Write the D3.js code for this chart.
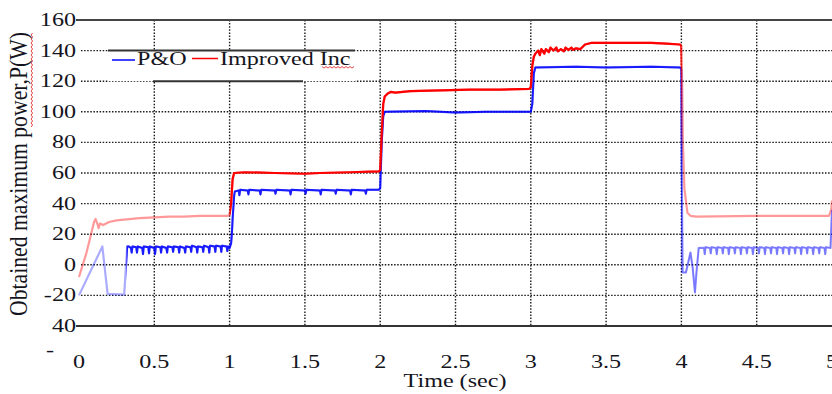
<!DOCTYPE html>
<html><head><meta charset="utf-8">
<script src="https://cdn.jsdelivr.net/npm/d3@7/dist/d3.min.js"></script>
<style>html,body{margin:0;padding:0;background:#fff;overflow:hidden}</style>
</head><body>
<svg id="chart" width="832" height="394"></svg>
<script>
// ---------- data ----------
const xTicks = [0, 0.5, 1, 1.5, 2, 2.5, 3, 3.5, 4, 4.5, 5];
const xTickLabels = ["0", "0.5", "1", "1.5", "2", "2.5", "3", "3.5", "4", "4.5", "5"];
const yTicks = [160, 140, 120, 100, 80, 60, 40, 20, 0, -20, -40];
const yTickLabels = ["160", "140", "120", "100", "80", "60", "40", "20", "0", "-20", "40"];
const seriesNames = ["P&O", "Improved Inc"];

const poTime = [0, 0.155, 0.19, 0.30, 0.32,
  0.33, 0.345, 0.35, 0.355, 0.38, 0.385, 0.39, 0.42, 0.425, 0.43, 0.46, 0.465, 0.47,
  0.50, 0.505, 0.51, 0.54, 0.545, 0.55, 0.58, 0.585, 0.59, 0.62, 0.625, 0.63,
  0.66, 0.665, 0.67, 0.70, 0.705, 0.71, 0.74, 0.745, 0.75, 0.78, 0.785, 0.79,
  0.82, 0.825, 0.83, 0.86, 0.865, 0.87, 0.90, 0.905, 0.91, 0.94, 0.945, 0.95,
  0.98, 0.985, 0.99, 1.0, 1.01, 1.015, 1.02, 1.03, 1.035,
  1.06, 1.065, 1.07, 1.12, 1.125, 1.13, 1.2, 1.205, 1.21, 1.3, 1.305, 1.31,
  1.4, 1.405, 1.41, 1.5, 1.505, 1.51, 1.6, 1.605, 1.61, 1.7, 1.705, 1.71,
  1.8, 1.805, 1.81, 1.9, 1.905, 1.91, 1.99,
  2.0, 2.01, 2.02, 2.03, 2.3, 2.5, 2.7, 3.0,
  3.01, 3.02, 3.03, 3.3, 3.5, 3.8, 3.99,
  4.0, 4.003, 4.008, 4.03, 4.06, 4.075, 4.09, 4.1, 4.115,
  4.15, 4.155, 4.16, 4.19, 4.195, 4.2, 4.23, 4.235, 4.24, 4.27, 4.275, 4.28,
  4.31, 4.315, 4.32, 4.35, 4.355, 4.36, 4.39, 4.395, 4.4, 4.43, 4.435, 4.44,
  4.47, 4.475, 4.48, 4.51, 4.515, 4.52, 4.55, 4.555, 4.56, 4.59, 4.595, 4.6,
  4.63, 4.635, 4.64, 4.67, 4.675, 4.68, 4.71, 4.715, 4.72, 4.75, 4.755, 4.76,
  4.79, 4.795, 4.8, 4.83, 4.835, 4.84, 4.87, 4.875, 4.88, 4.91, 4.915, 4.92,
  4.95, 4.955, 4.96, 4.99, 5.0];
const poPower = [-20, 12, -19, -19.5, 12,
  12, 11, 8, 12, 11.5, 8, 12, 11, 7, 12, 11.5, 7.5, 12,
  11, 7, 12, 11.5, 8, 12, 11, 8, 12, 11.5, 8.5, 12,
  11.5, 8, 12, 11, 8, 12, 11.5, 8.5, 12.5, 11.5, 8, 12,
  11.5, 8.5, 12.5, 11.5, 8, 12.5, 12, 8.5, 12.5, 12, 8.5, 12.5,
  12, 9, 12, 11, 14, 20, 30, 45, 48,
  48.5, 45.5, 49, 48.5, 46, 49, 48.5, 46, 49, 48.5, 46.5, 49,
  48.5, 46, 49, 48.5, 46.5, 49, 48.5, 46, 49, 48.5, 46.5, 49,
  48.5, 46, 49, 48.5, 46.5, 49, 49,
  50, 80, 97, 100, 100.5, 99.5, 100, 100,
  105, 125, 129, 129.5, 129, 129.5, 129,
  128, 60, -5, -5, 8, -2, -18, -5, 11,
  11, 7, 11.5, 11, 7.5, 11.5, 11, 7, 11.5, 11, 7.5, 11.5,
  11, 7, 11.5, 11, 7.5, 11.5, 11, 7, 11.5, 11, 7.5, 11.5,
  11, 7, 11.5, 11, 7.5, 11.5, 11, 7, 11.5, 11, 7.5, 11.5,
  11, 7, 11.5, 11, 7.5, 11.5, 11, 7, 11.5, 11, 7.5, 11.5,
  11, 7, 11.5, 11, 7.5, 11.5, 11, 7, 11.5, 11, 7.5, 11.5,
  11, 7, 11.5, 11, 36];

const incTime = [0, 0.05, 0.1, 0.11, 0.125, 0.13, 0.14, 0.16, 0.2, 0.25, 0.3, 0.4, 0.5,
  0.6, 0.7, 0.8, 0.9, 0.99, 1.0, 1.01, 1.02, 1.03, 1.1, 1.3, 1.5, 1.6, 1.8, 1.99,
  2.0, 2.01, 2.02, 2.03, 2.05, 2.07, 2.1, 2.2, 2.4, 2.6, 2.8, 2.99,
  3.0, 3.01, 3.02, 3.03, 3.05, 3.06, 3.07, 3.09, 3.1, 3.12, 3.13, 3.15, 3.17, 3.18,
  3.2, 3.22, 3.23, 3.25, 3.27, 3.28, 3.3, 3.33, 3.36, 3.4, 3.6, 3.8, 3.9, 3.99,
  4.0, 4.005, 4.01, 4.02, 4.04, 4.06, 4.1, 4.5, 4.9, 4.98, 4.995, 5.0];
const incPower = [-8, 8, 28, 30, 26, 24, 27, 26, 28, 29, 29.5, 30.5, 31,
  31.5, 31.5, 32, 32, 32, 33, 40, 56, 60, 60.5, 60, 59.5, 60, 60.5, 61,
  62, 85, 105, 110, 112, 113, 112.5, 113.5, 114, 114.5, 114.5, 115,
  116, 130, 136, 138, 140, 137, 141, 138, 141, 139, 142, 140, 142, 139.5,
  141, 139.5, 142, 140.5, 142, 140.5, 141.5, 141, 144, 145, 145, 145, 144.5, 144,
  143, 120, 80, 50, 34, 32, 31.5, 32, 32, 32, 36, 42];

// ---------- chart ----------
const W = 832, H = 394;
const svg = d3.select("#chart");
const x = d3.scaleLinear().domain([0, 5]).range([79, 832]);
const y = d3.scaleLinear().domain([-40, 160]).range([326, 20]);
const SX = 1.34;
const FONT = "'Liberation Serif', 'Times New Roman', serif";
const ink = "#141420";

function stext(sel, tx, ty, str, anchor, size) {
  return sel.append("text")
    .attr("transform", `translate(${tx},${ty}) scale(${SX},1)`)
    .attr("text-anchor", anchor)
    .attr("font-family", FONT)
    .attr("font-size", size)
    .attr("fill", ink)
    .text(str);
}

// grid
const grid = svg.append("g");
grid.selectAll("line.h").data(yTicks.filter(v => v > -40 && v < 160)).enter()
  .append("line")
  .attr("x1", x(0) + 2).attr("x2", W)
  .attr("y1", d => y(d)).attr("y2", d => y(d))
  .attr("stroke", "#1a1a1a").attr("stroke-width", 1.4)
  .attr("stroke-dasharray", "1.5,1.6");
grid.selectAll("line.v").data(xTicks.filter(v => v > 0 && v < 5)).enter()
  .append("line")
  .attr("x1", d => x(d)).attr("x2", d => x(d))
  .attr("y1", y(160)).attr("y2", y(-40))
  .attr("stroke", "#1a1a1a").attr("stroke-width", 1.4)
  .attr("stroke-dasharray", "1.5,1.6");

// frame lines
svg.append("line").attr("x1", 76).attr("x2", W).attr("y1", y(160)).attr("y2", y(160))
  .attr("stroke", "#444").attr("stroke-width", 2.2);
svg.append("line").attr("x1", 76).attr("x2", W).attr("y1", y(-40)).attr("y2", y(-40))
  .attr("stroke", "#333").attr("stroke-width", 2.2);

// clip paths for saturated/light portions
const defs = svg.append("defs");
function clip(id, t0, t1) {
  defs.append("clipPath").attr("id", id).append("rect")
    .attr("x", x(t0)).attr("width", x(t1) - x(t0))
    .attr("y", 0).attr("height", H);
}
clip("cMid", 1.0, 4.002);
clip("cPo", 0.315, 4.002);
clip("cPoEnd", 4.002, 5.0);

const line = d3.line().x(d => x(d[0])).y(d => y(d[1]));
const poData = poTime.map((t, i) => [t, poPower[i]]);
const incData = incTime.map((t, i) => [t, incPower[i]]);

const lines = svg.append("g");
// light (faded) full traces
lines.append("path").attr("d", line(poData)).attr("fill", "none")
  .attr("stroke", "#0000ff").attr("stroke-opacity", 0.33).attr("stroke-width", 2.2)
  .attr("stroke-linejoin", "round");
lines.append("path").attr("d", line(incData)).attr("fill", "none")
  .attr("stroke", "#ff0000").attr("stroke-opacity", 0.4).attr("stroke-width", 2.2)
  .attr("stroke-linejoin", "round");
// saturated portions
lines.append("path").attr("d", line(poData)).attr("fill", "none")
  .attr("clip-path", "url(#cPo)")
  .attr("stroke", "#0000ff").attr("stroke-opacity", 0.85).attr("stroke-width", 2)
  .attr("stroke-linejoin", "round");
lines.append("path").attr("d", line(poData)).attr("fill", "none")
  .attr("clip-path", "url(#cPoEnd)")
  .attr("stroke", "#0000ff").attr("stroke-opacity", 0.3).attr("stroke-width", 1.6)
  .attr("stroke-linejoin", "round");
lines.append("path").attr("d", line(incData)).attr("fill", "none")
  .attr("clip-path", "url(#cMid)")
  .attr("stroke", "#ff0000").attr("stroke-width", 2.2)
  .attr("stroke-linejoin", "round");

// y tick labels
yTicks.forEach((v, i) => {
  stext(svg, 76, y(v) + 6, yTickLabels[i], "end", 18);
});
stext(svg, 50, 356, "-", "middle", 18);

// x tick labels
xTicks.forEach((v, i) => {
  stext(svg, x(v), 368, xTickLabels[i], "middle", 18);
});

// axis titles
stext(svg, 455, 387, "Time (sec)", "middle", 18);
svg.append("text")
  .attr("transform", `translate(27,174) rotate(-90) scale(1,${SX})`)
  .attr("text-anchor", "middle")
  .attr("font-family", FONT).attr("font-size", 18).attr("fill", ink)
  .attr("textLength", 284).attr("lengthAdjust", "spacingAndGlyphs")
  .text("Obtained maximum power,P(W)");

function squiggle(x0, y0, len, vertical) {
  let d = "";
  for (let i = 0; i <= len; i += 2) {
    const o = (i / 2) % 2 === 0 ? 0 : 1.6;
    d += (i === 0 ? "M" : "L") + (vertical ? `${x0 + o},${y0 - i}` : `${x0 + i},${y0 + o}`);
  }
  svg.append("path").attr("d", d).attr("fill", "none")
    .attr("stroke", "#e03030").attr("stroke-width", 0.9);
}
squiggle(31, 127, 95, true);

// legend
const lg = svg.append("g");
lg.append("rect").attr("x", 108).attr("y", y(140)).attr("width", 247).attr("height", y(120) - y(140))
  .attr("fill", "#fff");
lg.append("line").attr("x1", 108).attr("x2", 355).attr("y1", y(140)).attr("y2", y(140))
  .attr("stroke", "#333").attr("stroke-width", 2);
lg.append("line").attr("x1", 153).attr("x2", 303).attr("y1", y(120)).attr("y2", y(120))
  .attr("stroke", "#333").attr("stroke-width", 2);
lg.append("line").attr("x1", 112).attr("x2", 135).attr("y1", 60).attr("y2", 60)
  .attr("stroke", "#0000ff").attr("stroke-width", 1.5);
stext(lg, 137, 65, seriesNames[0], "start", 18);
lg.append("line").attr("x1", 192).attr("x2", 218).attr("y1", 58.5).attr("y2", 58.5)
  .attr("stroke", "#ff0000").attr("stroke-width", 1.5);
stext(lg, 220, 65, seriesNames[1], "start", 18);
squiggle(322, 66.5, 33, false);
</script>
</body></html>
